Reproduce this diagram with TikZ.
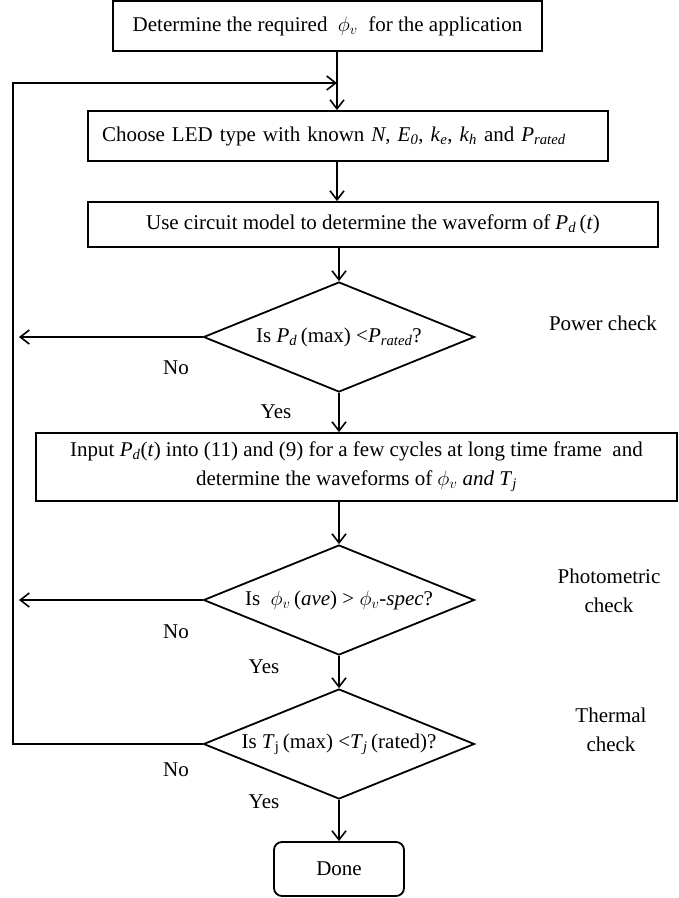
\documentclass[tikz,border=0pt]{standalone}
\usepackage{fontspec}
\setmainfont{Liberation Serif}
\usetikzlibrary{shapes.geometric,arrows.meta,positioning}
\tikzstyle{stepbox} = [draw,line width=1.8pt,rectangle,inner sep=0,align=center]
\tikzstyle{decision} = [draw,line width=1.8pt,diamond,aspect=2.46,inner sep=0,minimum width=271pt,minimum height=110pt]
\tikzstyle{flow} = [-{Straight Barb[length=9pt,width=14pt,line width=1.6pt]},line width=1.8pt]
\tikzstyle{remark} = [inner sep=0,align=center]
\newcommand{\ivar}[2]{\textit{#1}\textsubscript{\textit{#2}}}
\def \spine {337}

\begin{document}
\begin{tikzpicture}[x=1pt,y=-1pt,every node/.style={font=\fontsize{21}{29}\selectfont}]
      \useasboundingbox (0,0) rectangle (679,898);
      \node[stepbox,minimum width=429pt,minimum height=50pt] (req) at (327.5,26) {Determine the required \ $\phi_v$ \ for the application};
      \node[stepbox,minimum width=520pt,minimum height=50pt,text width=492pt,align=left] (led) at (348,136) {Choose LED type with known \textit{N}, \ivar{E}{0}, \ivar{k}{e}, \ivar{k}{h} and \ivar{P}{rated}};
      \node[stepbox,minimum width=570pt,minimum height=45pt] (model) at (373,224.5) {Use circuit model to determine the waveform of \ivar{P}{d}\,(\textit{t})};
      \node[decision] (pcheck) at (339,337) {Is \ivar{P}{d}\,(max) <\ivar{P}{rated}?};
      \node[stepbox,minimum width=641pt,minimum height=68pt] (input) at (356.5,467) {Input \ivar{P}{d}(\textit{t}) into (11) and (9) for a few cycles at long time frame \ and\\determine the waveforms of $\phi_v$ \textit{and} \ivar{T}{j}};
      \node[decision] (lcheck) at (339,600) {Is \ $\phi_v$\,(\textit{ave}) > $\phi_v$\textit{-spec}?};
      \node[decision] (tcheck) at (339,744) {Is \textit{T}\textsubscript{j}\,(max) <\ivar{T}{j}\,(rated)?};
      \node[stepbox,rounded corners=8pt,minimum width=130pt,minimum height=54pt] (done) at (339,869) {Done};
      % side notes
      \node[remark] (pnote) at (603,323) {Power check};
      \node[remark] (lnote) at (609,591) {Photometric\\check};
      \node[remark] (tnote) at (611,730) {Thermal\\check};
      \node[remark] (no1) at (176,368) {No};
      \node[remark] (no2) at (176,632) {No};
      \node[remark] (no3) at (176,770) {No};
      \node[remark] (yes1) at (276,412) {Yes};
      \node[remark] (yes2) at (264,667) {Yes};
      \node[remark] (yes3) at (264,802) {Yes};
      \coordinate (merge) at (\spine,83);
      \coordinate (back) at (13,83);
      \coordinate (exit) at (19,0);
      % main flow
      \draw[flow] (req.south -| merge) -- (led.north -| merge);
      \draw[flow] (led.south -| merge) -- (model.north -| merge);
      \draw[flow] (model.south -| pcheck) -- (pcheck.north);
      \draw[flow] (pcheck.south) -- (input.north -| pcheck);
      \draw[flow] (input.south -| lcheck) -- (lcheck.north);
      \draw[flow] (lcheck.south) -- (tcheck.north);
      \draw[flow] (tcheck.south) -- (done.north);
      % no branches
      \draw[flow] (pcheck.west) -- (pcheck.west -| exit);
      \draw[flow] (lcheck.west) -- (lcheck.west -| exit);
      \draw[flow] (tcheck.west) -| (back) -- (merge);
    \end{tikzpicture}
\end{document}
